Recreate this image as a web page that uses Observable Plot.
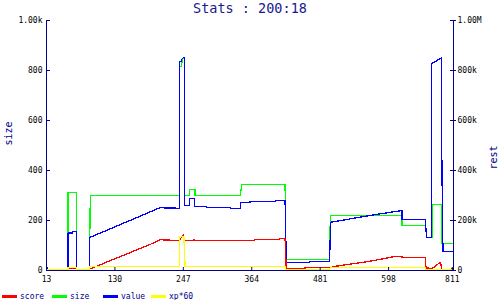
<!DOCTYPE html>
<html><head><meta charset="utf-8">
<script src="https://cdn.jsdelivr.net/npm/d3@7"></script>
<script src="https://cdn.jsdelivr.net/npm/@observablehq/plot@0.6"></script>
<style>
body{margin:0;background:#fff;width:500px;height:300px;overflow:hidden;font-family:"DejaVu Sans Mono",monospace;}
#title{height:14px;line-height:16px;text-align:center;font-size:13.5px;color:#1a1a8c;white-space:pre;}
#chart svg{display:block}
#legend{position:relative;height:14px;margin-top:3px;font-size:8px;color:#00008b;}
.item{position:absolute;top:0;height:14px;display:flex;align-items:center;white-space:pre}
.sw{display:inline-block;width:15px;height:3px;margin-right:3px}
</style></head><body>
<div id="title">Stats : 200:18</div>
<div id="chart"></div>
<div id="legend"></div>
<script>
const navy = "#00008b";
const xTicks = [13, 130, 247, 364, 481, 598, 707];
const xTickLabels = ["13", "130", "247", "364", "481", "598", "811"];
const yTicks = [0, 200, 400, 600, 800, 1000];
const leftTickLabels = ["0", "200", "400", "600", "800", "1.00k"];
const rightTickLabels = ["0", "200k", "400k", "600k", "800k", "1.00M"];

const seriesNames = ["score", "size", "value", "xp*60"];
const seriesColors = ["#ff0000", "#00ff00", "#0000ff", "#ffff00"];

const score = [[13,2],[50,2],[50,7],[64,7],[64,2],[87,2],[87,6],[190,104],[207,123],[240,120],[247,143],[249,120],[264,120],[265,124],[266,120],[368,120],[369,124],[411,124],[411,127],[421,127],[422,69],[423,7],[455,7],[455,11],[498,11],[505,16],[566,37],[609,56],[621,56],[621,51],[661,51],[662,5],[665,13],[669,5],[676,13],[683,27],[687,33],[689,3],[705,3],[707,8],[709,8]];
const size = [[13,2],[50,2],[50,313],[64,313],[64,2],[86,2],[86,67],[87,147],[88,300],[240,300],[240,816],[244,816],[245,844],[247,851],[249,851],[249,300],[258,300],[258,323],[267,323],[267,300],[344,300],[347,343],[421,343],[422,190],[422,150],[423,43],[497,43],[497,130],[499,220],[621,220],[621,180],[661,180],[662,160],[663,131],[672,131],[672,264],[688,264],[689,187],[689,109],[709,109]];
const value = [[13,10],[15,10],[15,2],[50,2],[50,150],[58,150],[58,157],[64,157],[64,2],[86,2],[86,131],[207,251],[240,249],[240,837],[244,837],[244,844],[247,851],[249,851],[249,260],[257,260],[257,287],[266,287],[266,256],[287,256],[287,253],[327,253],[327,249],[345,249],[345,271],[361,271],[361,277],[404,277],[404,279],[421,279],[422,160],[423,32],[463,32],[463,36],[497,36],[498,113],[499,193],[566,220],[621,240],[621,203],[661,203],[662,160],[663,133],[671,133],[671,827],[689,851],[689,460],[691,76],[709,76]];
const xp60 = [[13,3],[50,3],[50,13],[64,13],[64,3],[86,3],[86,15],[240,15],[240,135],[248,135],[250,15],[422,15],[422,2],[497,2],[498,11],[661,11],[662,2],[709,2]];

const seriesData = [score, size, value, xp60];
const drawOrder = [1, 2, 0, 3];

const lineMarks = drawOrder.map(i => Plot.line(seriesData[i], {
  x: d => d[0], y: d => d[1], stroke: seriesColors[i], strokeWidth: 1.3, shapeRendering: "crispEdges"
}));

const chart = Plot.plot({
  width: 500, height: 272,
  marginLeft: 46, marginRight: 47, marginTop: 6, marginBottom: 16,
  style: {fontFamily: "DejaVu Sans Mono, monospace", fontSize: "8px", color: "black", background: "white", overflow: "visible"},
  x: {domain: [13, 709]},
  y: {domain: [0, 1000]},
  marks: [
    ...lineMarks,
    Plot.ruleX([13, 709], {stroke: navy, strokeWidth: 1.3, shapeRendering: "crispEdges"}),
    Plot.ruleY([0], {stroke: navy, strokeWidth: 1.3, shapeRendering: "crispEdges"}),
    Plot.axisY({anchor: "left", ticks: yTicks, tickSize: -4, tickFormat: () => "", stroke: navy, label: null}),
    Plot.axisY({anchor: "left", ticks: yTicks, tickSize: 0, tickPadding: 4, tickFormat: d => leftTickLabels[yTicks.indexOf(d)], fill: "black", label: null}),
    Plot.axisY({anchor: "right", ticks: yTicks, tickSize: 2, tickFormat: () => "", stroke: navy, label: null}),
    Plot.axisY({anchor: "right", ticks: yTicks, tickSize: -4, tickFormat: () => "", stroke: navy, label: null}),
    Plot.axisY({anchor: "right", ticks: yTicks, tickSize: 0, tickPadding: 4, tickFormat: d => rightTickLabels[yTicks.indexOf(d)], fill: "black", label: null}),
    Plot.axisX({ticks: xTicks, tickSize: -3, tickFormat: () => "", stroke: navy, label: null}),
    Plot.axisX({ticks: xTicks, tickSize: 0, tickPadding: 6, tickFormat: d => xTickLabels[xTicks.indexOf(d)], fill: "black", label: null}),
    Plot.text(["size"], {text: d => d, frameAnchor: "left", dx: -38, rotate: -90, fill: navy, fontSize: 10}),
    Plot.text(["rest"], {text: d => d, frameAnchor: "right", dx: 40, rotate: -90, fill: navy, fontSize: 10})
  ]
});
document.getElementById("chart").appendChild(chart);

const legendLefts = [2, 52, 103, 151];
const legend = document.getElementById("legend");
seriesNames.forEach((name, i) => {
  const item = document.createElement("div");
  item.className = "item";
  item.style.left = legendLefts[i] + "px";
  const sw = document.createElement("span");
  sw.className = "sw";
  sw.style.background = seriesColors[i];
  const t = document.createElement("span");
  t.textContent = name;
  item.appendChild(sw); item.appendChild(t);
  legend.appendChild(item);
});
</script></body></html>
